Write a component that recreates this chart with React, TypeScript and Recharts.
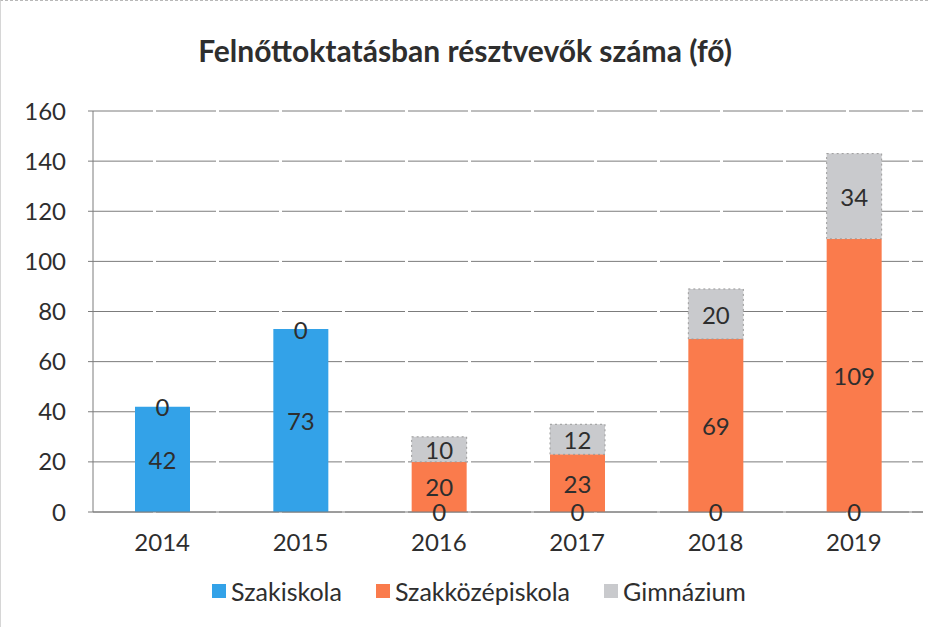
import { BarChart, Bar, XAxis, YAxis, CartesianGrid, LabelList } from "recharts";

const years = ["2014", "2015", "2016", "2017", "2018", "2019"];
const szakiskola = [42, 73, 0, 0, 0, 0];
const szakkozep = [0, 0, 20, 23, 69, 109];
const gimnazium: (number | null)[] = [null, null, 10, 12, 20, 34];
const yTicks = [0, 20, 40, 60, 80, 100, 120, 140, 160];

const BLUE = "#33a2e8";
const ORANGE = "#fa7b4c";
const GREY = "#c9cacd";
const FONT = "Lato, 'Open Sans', sans-serif";

const data = years.map((y, i) => ({
  year: y,
  szakiskola: szakiskola[i],
  szakkozep: szakkozep[i],
  gimnazium: gimnazium[i],
}));

const legendItems = [
  { name: "Szakiskola", color: BLUE },
  { name: "Szakközépiskola", color: ORANGE },
  { name: "Gimnázium", color: GREY },
];

// draws the label even for zero-height segments
const SegLabel = (props: any) => {
  const { x, y, width, height, value } = props;
  if (value === null || value === undefined) return null;
  return (
    <text
      x={Number(x) + Number(width) / 2}
      y={Number(y) + Number(height) / 2}
      textAnchor="middle"
      dominantBaseline="central"
      fill="#2e2e2e"
      fontSize={24}
      fontFamily={FONT}
    >
      {value}
    </text>
  );
};

export default function App() {
  return (
    <div
      style={{
        position: "absolute",
        left: 0,
        top: 0,
        width: 928,
        height: 627,
        background: "#fff",
        fontFamily: FONT,
        borderLeft: "1px solid #d6d6d6",
        borderTop: "1px dashed #b8b8b8",
        boxSizing: "border-box",
      }}
    >
      <div
        style={{
          position: "absolute",
          top: 31,
          left: 0,
          width: 928,
          textAlign: "center",
          fontSize: 30,
          fontWeight: 700,
          color: "#2e2e2e",
        }}
      >
        Felnőttoktatásban résztvevők száma (fő)
      </div>
      <BarChart
        width={928}
        height={627}
        data={data}
        margin={{ top: 110, right: 6, left: 0, bottom: 76 }}
        style={{ position: "absolute", left: 0, top: 0 }}
      >
        <CartesianGrid vertical={false} stroke="#7c7c7c" strokeDasharray="60 3" />
        <XAxis
          dataKey="year"
          axisLine={{ stroke: "#7c7c7c" }}
          tickLine={false}
          tick={{ fill: "#2e2e2e", fontSize: 24, fontFamily: FONT }}
          tickMargin={16}
          height={40}
        />
        <YAxis
          domain={[0, 160]}
          ticks={yTicks}
          width={92}
          axisLine={{ stroke: "#7c7c7c" }}
          tickLine={{ stroke: "#7c7c7c" }}
          tickSize={5}
          tick={{ fill: "#2e2e2e", fontSize: 24, fontFamily: FONT }}
          tickMargin={22}
        />
        <Bar
          dataKey="szakiskola"
          stackId="a"
          fill={BLUE}
          barSize={55}
          minPointSize={0.01}
          isAnimationActive={false}
        >
          <LabelList dataKey="szakiskola" content={SegLabel} />
        </Bar>
        <Bar
          dataKey="szakkozep"
          stackId="a"
          fill={ORANGE}
          barSize={55}
          minPointSize={0.01}
          isAnimationActive={false}
        >
          <LabelList dataKey="szakkozep" content={SegLabel} />
        </Bar>
        <Bar
          dataKey="gimnazium"
          stackId="a"
          fill={GREY}
          stroke="#9a9a9a"
          strokeDasharray="2 3"
          barSize={55}
          isAnimationActive={false}
        >
          <LabelList dataKey="gimnazium" content={SegLabel} />
        </Bar>
      </BarChart>
      <div
        style={{
          position: "absolute",
          top: 575,
          left: 14,
          width: 928,
          display: "flex",
          justifyContent: "center",
          gap: 34,
          fontSize: 25,
          color: "#2e2e2e",
        }}
      >
        {legendItems.map((it) => (
          <div key={it.name} style={{ display: "flex", alignItems: "center", gap: 5 }}>
            <span style={{ width: 14, height: 14, background: it.color, display: "inline-block" }} />
            <span>{it.name}</span>
          </div>
        ))}
      </div>
    </div>
  );
}
